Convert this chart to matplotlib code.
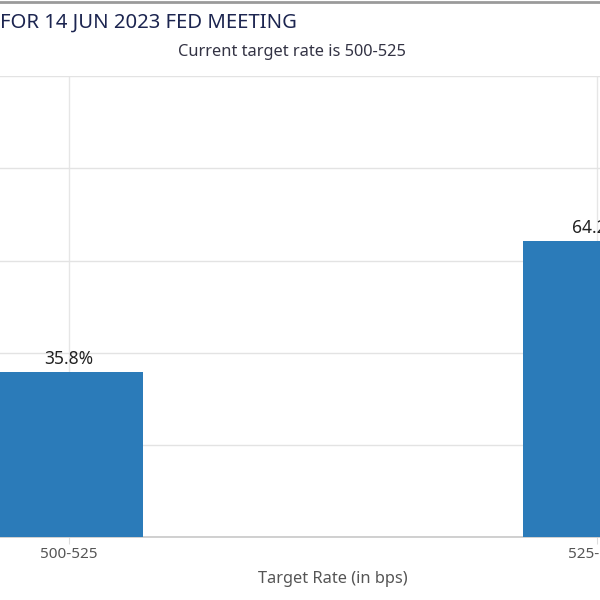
import matplotlib.pyplot as plt
from matplotlib.lines import Line2D

# target rate probabilities, 14 Jun 2023 meeting
rates = ["500-525", "525-550"]
probs = [35.8, 64.2]
yticks = [0, 20, 40, 60, 80, 100]

title = "FOR 14 JUN 2023 FED MEETING"
subtitle = "Current target rate is 500-525"
xlabel = "Target Rate (in bps)"

plt.rcParams['font.family'] = ['Noto Sans', 'DejaVu Sans']

fig = plt.figure(figsize=(6, 6), dpi=100)
# the plot area runs past the edges of the picture (cropped view)
ax = fig.add_axes([-0.325, 0.105, 1.76, 0.768])

x = list(range(len(rates)))
bars = ax.bar(x, probs, width=0.28, color='#2b7bb9', zorder=3)

for b, p in zip(bars, probs):
    ax.annotate(f"{p}%", (b.get_x() + b.get_width() / 2, b.get_height()),
                xytext=(0, 3), textcoords='offset points',
                ha='center', va='bottom', fontsize=12.5, color='#222222')

ax.set_xlim(-0.5, 1.5)
ax.set_ylim(0, 100)
ax.set_yticks(yticks)
ax.set_yticklabels([])
ax.set_xticks(x)
ax.set_xticklabels(rates, fontsize=11, color='#555555')
ax.tick_params(axis='x', length=5, color='#dddddd', pad=2)
ax.tick_params(axis='y', length=0)

ax.grid(axis='y', color='#e3e3e3', lw=1, zorder=0)
ax.grid(axis='x', color='#e6e6e6', lw=1, zorder=0)
for s in ['top', 'right', 'left']:
    ax.spines[s].set_visible(False)
ax.spines['bottom'].set_color('#c8c8c8')
ax.spines['bottom'].set_linewidth(1.2)

ax.set_xlabel(xlabel, fontsize=11.8, color='#555555', labelpad=7)

fig.text(0.0, 0.963, title, ha='left', va='center', fontsize=14.6, color='#1c2550')
fig.text(0.487, 0.913, subtitle, ha='center', va='center', fontsize=11.8, color='#333344')

fig.add_artist(Line2D([0, 1], [0.996, 0.996], transform=fig.transFigure,
                      color='#9a9a9a', lw=2))

fig.savefig('out.png', dpi=100)
